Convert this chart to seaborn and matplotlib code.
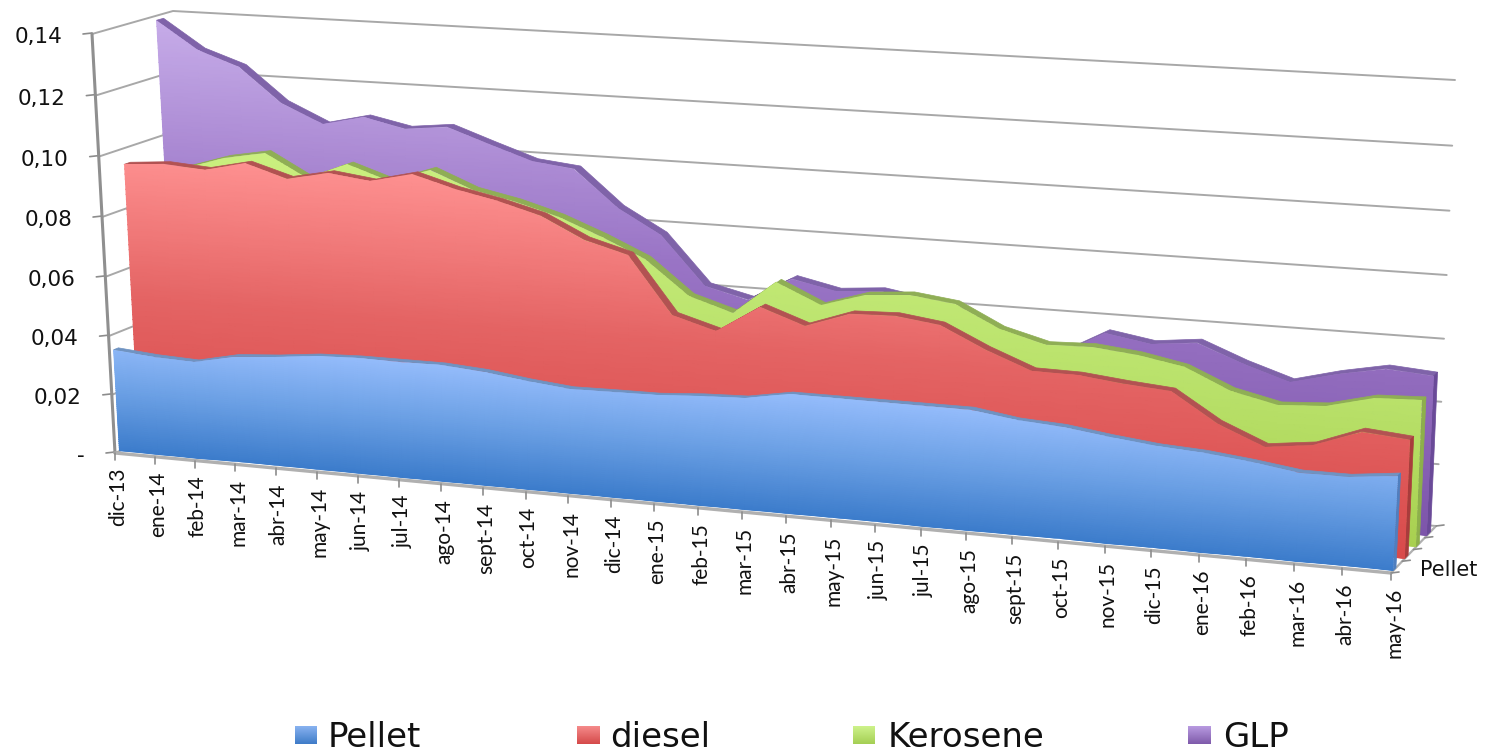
"""3D style area chart of fuel prices, Excel look, drawn on a flat seaborn axes."""
import matplotlib
matplotlib.use('Agg')
import matplotlib.pyplot as plt
import numpy as np
import seaborn as sns
from matplotlib.patches import Polygon

months = ['dic-13', 'ene-14', 'feb-14', 'mar-14', 'abr-14', 'may-14', 'jun-14', 'jul-14',
          'ago-14', 'sept-14', 'oct-14', 'nov-14', 'dic-14', 'ene-15', 'feb-15', 'mar-15',
          'abr-15', 'may-15', 'jun-15', 'jul-15', 'ago-15', 'sept-15', 'oct-15', 'nov-15',
          'dic-15', 'ene-16', 'feb-16', 'mar-16', 'abr-16', 'may-16']

pellet = [.0348, .0336, .033, .036, .037, .0385, .039, .039, .039, .038, .0361, .0347, .0349, .035, .036,
          .0365, .039, .039, .039, .039, .039, .0368, .036, .034, .0324, .0316, .030, .028, .028, .0297]
diesel = [.0947, .0958, .0948, .0978, .0937, .0965, .0947, .098, .094, .0911, .0874, .0806, .0767, .0582, .0541,
          .0631, .0581, .0631, .0636, .0617, .055, .0494, .0492, .0477, .0465, .0375, .0314, .0332, .0388, .0375]
kerosene = [.0884, .0922, .0965, .099, .0914, .097, .0924, .0971, .0914, .0885, .0845, .079, .0727, .0615, .0572,
            .0683, .0618, .0663, .0674, .0656, .0585, .0547, .0552, .0537, .0509, .0446, .0413, .0422, .0459, .0465]
glp = [.1385, .1293, .1246, .1134, .1071, .1103, .1074, .1089, .104, .0993, .0978, .0858, .0779, .0622, .0588,
       .0667, .0636, .0648, .0624, .0596, .0515, .0487, .0566, .0542, .0558, .0501, .0454, .0492, .0521, .051]

value_ticks = [0, .02, .04, .06, .08, .10, .12, .14]
value_labels = ['-', '0,02', '0,04', '0,06', '0,08', '0,10', '0,12', '0,14']
series_names = ['Pellet', 'diesel', 'Kerosene', 'GLP']

# pixel corners of the chart box: (left, right) x (floor, top)
FRONT = {'l0': (115, 453), 'r0': (1391, 573), 'lt': (92, 34), 'rt': (1414, 111)}
BACK = {'l0': (196, 417), 'r0': (1436, 526), 'lt': (173, 11), 'rt': (1455, 80)}
N = len(months) - 1
VMAX = value_ticks[-1]


def homography(t):
    """Matrix that takes (month, value) to pixels on the plane at depth t."""
    src = [(0, 0), (N, 0), (0, VMAX), (N, VMAX)]
    dst = [(1 - t) * np.array(FRONT[k]) + t * np.array(BACK[k]) for k in ('l0', 'r0', 'lt', 'rt')]
    a, b = [], []
    for (x, y), (u, v) in zip(src, dst):
        a.append([x, y, 1, 0, 0, 0, -u * x, -u * y])
        a.append([0, 0, 0, x, y, 1, -v * x, -v * y])
        b += [u, v]
    return np.append(np.linalg.solve(np.array(a, float), np.array(b, float)), 1).reshape(3, 3)


def project(i, v, t):
    h = homography(t)
    i, v = np.asarray(i, float), np.asarray(v, float)
    w = h[2, 0] * i + h[2, 1] * v + h[2, 2]
    return (h[0, 0] * i + h[0, 1] * v + h[0, 2]) / w, (h[1, 0] * i + h[1, 1] * v + h[1, 2]) / w


sns.set_theme(style='white')
plt.rcParams['font.family'] = ['DejaVu Sans']

fig = plt.figure(figsize=(14.89, 7.53), dpi=100)
ax = fig.add_axes([0, 0, 1, 1])

# walls
for val, lab in zip(value_ticks, value_labels):
    px, py = project([0, 0], [val, val], 0)
    bx, by = project([0, 0], [val, val], 1)
    ex, ey = project([N, N], [val, val], 1)
    ax.plot([px[0], bx[0], ex[0]], [py[0], by[0], ey[0]], color='#a8a8a8', lw=1.4, zorder=1)
    ax.plot([px[0] - 9, px[0]], [py[0], py[0] - 1], color='#8c8c8c', lw=1.2, zorder=1)
    ax.text(px[0] - 30, py[0] + 3, lab, ha='right', va='center', fontsize=15.5, color='#111111')

ticks = np.arange(N + 1)
px, py = project(ticks, np.zeros(N + 1), 0)
sns.lineplot(x=np.array(project([0, 0], [0, VMAX], 0)[0]), y=np.array(project([0, 0], [0, VMAX], 0)[1]),
             sort=False, estimator=None, color='#8f8f8f', lw=2.2, zorder=1, ax=ax)
sns.lineplot(x=px, y=py, sort=False, estimator=None, color='#b0b0b0', lw=2.4, zorder=1, ax=ax)
for x0, y0, lab in zip(px, py, months):
    ax.plot([x0, x0], [y0, y0 + 7], color='#8c8c8c', lw=1.2, zorder=1)
    ax.text(x0 + 3, y0 + 15, lab, rotation=90, ha='center', va='top', fontsize=15,
            family='Lato', color='#111111')

# floor edge on the right with the depth ticks
ax.plot(*[np.concatenate(c) for c in zip(project([N], [0], 0), project([N], [0], 1))],
        color='#b0b0b0', lw=1.6, zorder=1)
for t in [0, .25, .5, .75, 1]:
    x0, y0 = project(N, 0, t)
    ax.plot([x0, x0 + 8], [y0, y0 - 1], color='#8c8c8c', lw=1.2, zorder=1)
ax.text(1420, 570, 'Pellet', ha='left', va='center', fontsize=15, color='#111111')

# one entry per series, from the back of the box to the front
styles = [
    (glp, .79, .88, ['#7d55aa', '#9a75c6', '#c8aeea'], '#7f63a9', '#6a4a98'),
    (kerosene, .55, .63, ['#a8d050', '#bbe36d', '#cbf080'], '#8fae55', '#8db04a'),
    (diesel, .30, .38, ['#d84a4a', '#e46464', '#ff9292'], '#b25252', '#a83c3c'),
    (pellet, .05, .11, ['#3c7ccb', '#6a9fe4', '#96bdfc'], '#6f93c2', '#4f7fbf'),
]
for z, (vals, t_f, t_b, cols, rim, side) in enumerate(styles):
    vals = np.array(vals)
    top = vals.max() * 1.02
    fx, fy = project(ticks, vals, t_f)
    bx, by = project(ticks, vals, t_b)
    base_x, base_y = project(ticks, np.zeros(N + 1), t_f)
    zo = 2 + z
    # roof strip and right hand side
    ax.add_patch(Polygon(np.column_stack([np.r_[fx, bx[::-1]], np.r_[fy, by[::-1]]]), fc=rim, ec=rim, lw=.5, zorder=zo))
    sx0, sy0 = project(N, 0, t_b)
    ax.add_patch(Polygon([(base_x[-1], base_y[-1]), (fx[-1], fy[-1]), (bx[-1], by[-1]), (sx0, sy0)],
                         fc=side, ec=side, lw=.5, zorder=zo))
    # front face with the gradient running up the value direction
    levels = np.linspace(0, top, 60)
    grid_i, grid_v = np.meshgrid(ticks.astype(float), levels)
    mesh_x, mesh_y = project(grid_i, grid_v, t_f)
    cmap = sns.blend_palette(cols, as_cmap=True)
    mesh = ax.pcolormesh(mesh_x, mesh_y, grid_v / top, cmap=cmap, vmin=0, vmax=1, shading='gouraud', zorder=zo)
    face = Polygon(np.column_stack([np.r_[fx, base_x[::-1]], np.r_[fy, base_y[::-1]]]), transform=ax.transData)
    mesh.set_clip_path(face)

# legend
legend_x = [(295, 317), (577, 600), (853, 875), (1188, 1211)]
legend_text_x = [328, 610, 888, 1223]
legend_cols = [['#88b2f0', '#3f7cc8'], ['#f58a8a', '#d54a4a'], ['#cdf28a', '#a5cf55'], ['#b89ae0', '#7f5bab']]
for (x0, x1), tx, name, cols in zip(legend_x, legend_text_x, series_names, legend_cols):
    grad = np.linspace(0, 1, 32).reshape(-1, 1)
    ax.imshow(grad, extent=(x0, x1, 744, 726), cmap=sns.blend_palette(cols, as_cmap=True), aspect='auto', zorder=8)
    ax.text(tx, 747, name, ha='left', va='baseline', fontsize=24.5, color='#111111')

ax.set_xlim(0, 1489)
ax.set_ylim(753, 0)
ax.axis('off')
fig.savefig('out.png', dpi=100, facecolor='white')
